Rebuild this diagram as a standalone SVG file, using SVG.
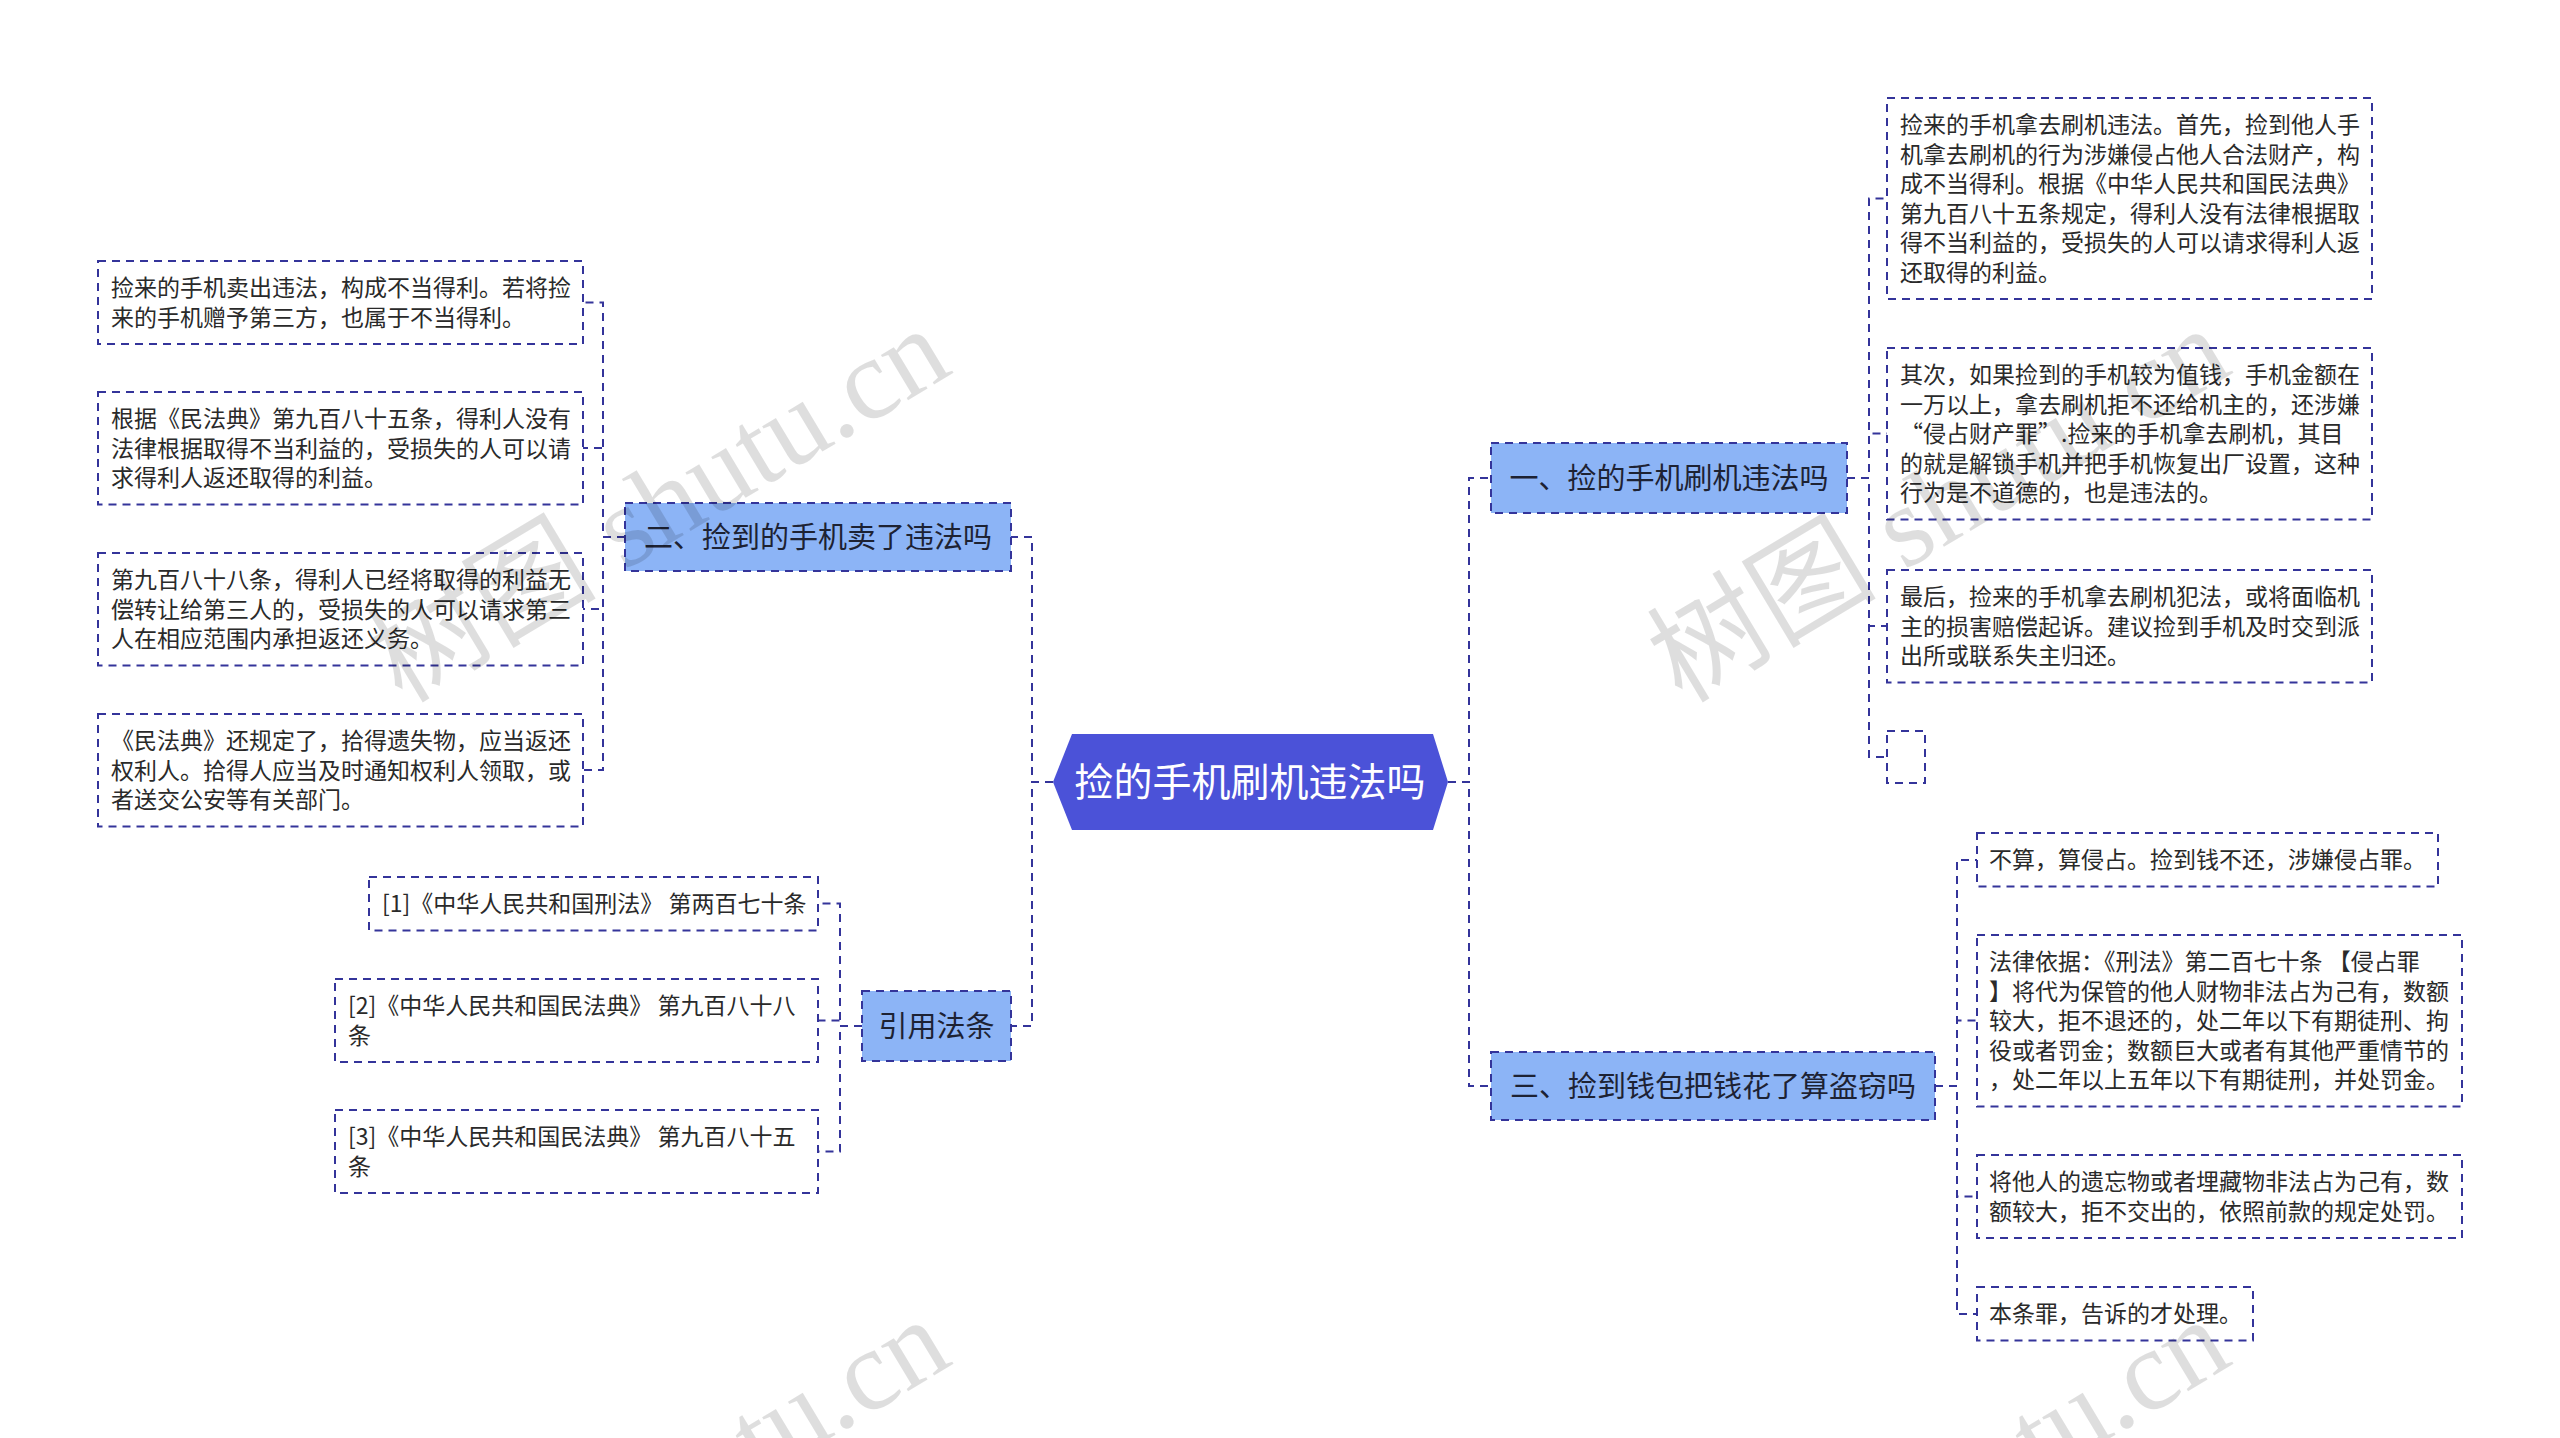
<svg xmlns="http://www.w3.org/2000/svg" width="2560" height="1438" viewBox="0 0 2560 1438">
<style>
.box{fill:none;stroke:#34349a;stroke-width:2;stroke-dasharray:8 6}
.br{fill:#8cb4f6;stroke:#34349a;stroke-width:2;stroke-dasharray:8 6}
.conn path{fill:none;stroke:#34349a;stroke-width:2;stroke-dasharray:8 6}
.lt{font-family:"Noto Sans CJK SC","Noto Sans",sans-serif;font-size:23px;fill:#2a2a2a}
.bt{font-family:"Noto Sans CJK SC","Noto Sans",sans-serif;font-size:29px;fill:#1d2233;text-anchor:middle}
.ct{font-family:"Noto Sans CJK SC","Noto Sans",sans-serif;font-size:39px;fill:#ffffff;text-anchor:middle}
.wm{font-family:"Liberation Serif","Noto Sans CJK SC",serif;font-size:115px;fill:#000;fill-opacity:0.13;text-anchor:end}
</style>
<rect width="2560" height="1438" fill="#ffffff"/>
<g id="connectors" class="conn">
<path d="M1448,782 H1469 V478 H1491"/>
<path d="M1448,782 H1469 V1086 H1491"/>
<path d="M1053,782 H1032 V537 H1011"/>
<path d="M1053,782 H1032 V1026 H1011"/>
<path d="M1847,478 H1869 V198.5 H1887"/>
<path d="M1847,478 H1869 V433.5 H1887"/>
<path d="M1847,478 H1869 V626 H1887"/>
<path d="M1847,478 H1869 V757 H1887"/>
<path d="M1935,1086 H1957 V860 H1977"/>
<path d="M1935,1086 H1957 V1020.5 H1977"/>
<path d="M1935,1086 H1957 V1196.5 H1977"/>
<path d="M1935,1086 H1957 V1314 H1977"/>
<path d="M625,537 H603 V302.5 H583"/>
<path d="M625,537 H603 V448 H583"/>
<path d="M625,537 H603 V609 H583"/>
<path d="M625,537 H603 V770 H583"/>
<path d="M862,1026 H840 V903.5 H818"/>
<path d="M862,1026 H840 V1020.5 H818"/>
<path d="M862,1026 H840 V1151.5 H818"/>
</g>
<g id="center">
<polygon points="1053,782 1072,734 1433,734 1448,782 1433,830 1072,830" fill="#4b52d8"/>
<text class="ct" x="1250" y="796">捡的手机刷机违法吗</text>
</g>
<g id="b1">
<rect class="br" x="1491" y="443" width="356" height="70"/>
<text class="bt" x="1669" y="489">一、捡的手机刷机违法吗</text>
</g>
<g id="b3">
<rect class="br" x="1491" y="1052" width="444" height="68"/>
<text class="bt" x="1713" y="1097">三、捡到钱包把钱花了算盗窃吗</text>
</g>
<g id="b2">
<rect class="br" x="625" y="503" width="386" height="68"/>
<text class="bt" x="818" y="548">二、捡到的手机卖了违法吗</text>
</g>
<g id="b4">
<rect class="br" x="862" y="991" width="149" height="70"/>
<text class="bt" x="936.5" y="1037">引用法条</text>
</g>
<g id="r1a">
<rect class="box" x="1887" y="98" width="485" height="201"/>
<text class="lt" x="1900" y="133"><tspan x="1900">捡来的手机拿去刷机违法。首先，捡到他人手</tspan><tspan x="1900" dy="29.5">机拿去刷机的行为涉嫌侵占他人合法财产，构</tspan><tspan x="1900" dy="29.5">成不当得利。根据《中华人民共和国民法典》</tspan><tspan x="1900" dy="29.5">第九百八十五条规定，得利人没有法律根据取</tspan><tspan x="1900" dy="29.5">得不当利益的，受损失的人可以请求得利人返</tspan><tspan x="1900" dy="29.5">还取得的利益。</tspan></text>
</g>
<g id="r1b">
<rect class="box" x="1887" y="348" width="485" height="171.5"/>
<text class="lt" x="1900" y="383"><tspan x="1900">其次，如果捡到的手机较为值钱，手机金额在</tspan><tspan x="1900" dy="29.5">一万以上，拿去刷机拒不还给机主的，还涉嫌</tspan><tspan x="1900" dy="29.5">“侵占财产罪”.捡来的手机拿去刷机，其目</tspan><tspan x="1900" dy="29.5">的就是解锁手机并把手机恢复出厂设置，这种</tspan><tspan x="1900" dy="29.5">行为是不道德的，也是违法的。</tspan></text>
</g>
<g id="r1c">
<rect class="box" x="1887" y="570" width="485" height="112.5"/>
<text class="lt" x="1900" y="605"><tspan x="1900">最后，捡来的手机拿去刷机犯法，或将面临机</tspan><tspan x="1900" dy="29.5">主的损害赔偿起诉。建议捡到手机及时交到派</tspan><tspan x="1900" dy="29.5">出所或联系失主归还。</tspan></text>
</g>
<g id="r1d">
<rect class="box" x="1887" y="731" width="38" height="52"/>
</g>
<g id="r3a">
<rect class="box" x="1977" y="833" width="461" height="53.5"/>
<text class="lt" x="1989" y="868">不算，算侵占。捡到钱不还，涉嫌侵占罪。</text>
</g>
<g id="r3b">
<rect class="box" x="1977" y="935" width="485" height="171.5"/>
<text class="lt" x="1989" y="970"><tspan x="1989">法律依据：《刑法》第二百七十条 【侵占罪</tspan><tspan x="1989" dy="29.5">】将代为保管的他人财物非法占为己有，数额</tspan><tspan x="1989" dy="29.5">较大，拒不退还的，处二年以下有期徒刑、拘</tspan><tspan x="1989" dy="29.5">役或者罚金；数额巨大或者有其他严重情节的</tspan><tspan x="1989" dy="29.5">，处二年以上五年以下有期徒刑，并处罚金。</tspan></text>
</g>
<g id="r3c">
<rect class="box" x="1977" y="1155" width="485" height="83"/>
<text class="lt" x="1989" y="1190"><tspan x="1989">将他人的遗忘物或者埋藏物非法占为己有，数</tspan><tspan x="1989" dy="29.5">额较大，拒不交出的，依照前款的规定处罚。</tspan></text>
</g>
<g id="r3d">
<rect class="box" x="1977" y="1287" width="276" height="53.5"/>
<text class="lt" x="1989" y="1322">本条罪，告诉的才处理。</text>
</g>
<g id="l2a">
<rect class="box" x="98" y="261" width="485" height="83"/>
<text class="lt" x="111" y="296"><tspan x="111">捡来的手机卖出违法，构成不当得利。若将捡</tspan><tspan x="111" dy="29.5">来的手机赠予第三方，也属于不当得利。</tspan></text>
</g>
<g id="l2b">
<rect class="box" x="98" y="392" width="485" height="112.5"/>
<text class="lt" x="111" y="427"><tspan x="111">根据《民法典》第九百八十五条，得利人没有</tspan><tspan x="111" dy="29.5">法律根据取得不当利益的，受损失的人可以请</tspan><tspan x="111" dy="29.5">求得利人返还取得的利益。</tspan></text>
</g>
<g id="l2c">
<rect class="box" x="98" y="553" width="485" height="112.5"/>
<text class="lt" x="111" y="588"><tspan x="111">第九百八十八条，得利人已经将取得的利益无</tspan><tspan x="111" dy="29.5">偿转让给第三人的，受损失的人可以请求第三</tspan><tspan x="111" dy="29.5">人在相应范围内承担返还义务。</tspan></text>
</g>
<g id="l2d">
<rect class="box" x="98" y="714" width="485" height="112.5"/>
<text class="lt" x="111" y="749"><tspan x="111">《民法典》还规定了，拾得遗失物，应当返还</tspan><tspan x="111" dy="29.5">权利人。拾得人应当及时通知权利人领取，或</tspan><tspan x="111" dy="29.5">者送交公安等有关部门。</tspan></text>
</g>
<g id="ref1">
<rect class="box" x="369" y="877" width="449" height="53.5"/>
<text class="lt" x="382" y="912">[1]《中华人民共和国刑法》 第两百七十条</text>
</g>
<g id="ref2">
<rect class="box" x="335" y="979" width="483" height="83"/>
<text class="lt" x="348" y="1014"><tspan x="348">[2]《中华人民共和国民法典》 第九百八十八</tspan><tspan x="348" dy="29.5">条</tspan></text>
</g>
<g id="ref3">
<rect class="box" x="335" y="1110" width="483" height="83"/>
<text class="lt" x="348" y="1145"><tspan x="348">[3]《中华人民共和国民法典》 第九百八十五</tspan><tspan x="348" dy="29.5">条</tspan></text>
</g>
<g id="watermark">
<text class="wm" transform="translate(955,372) rotate(-31)">树图 shutu.cn</text>
<text class="wm" transform="translate(2235,372) rotate(-31)">树图 shutu.cn</text>
<text class="wm" transform="translate(955,1363) rotate(-31)">树图 shutu.cn</text>
<text class="wm" transform="translate(2235,1363) rotate(-31)">树图 shutu.cn</text>
</g>
</svg>
